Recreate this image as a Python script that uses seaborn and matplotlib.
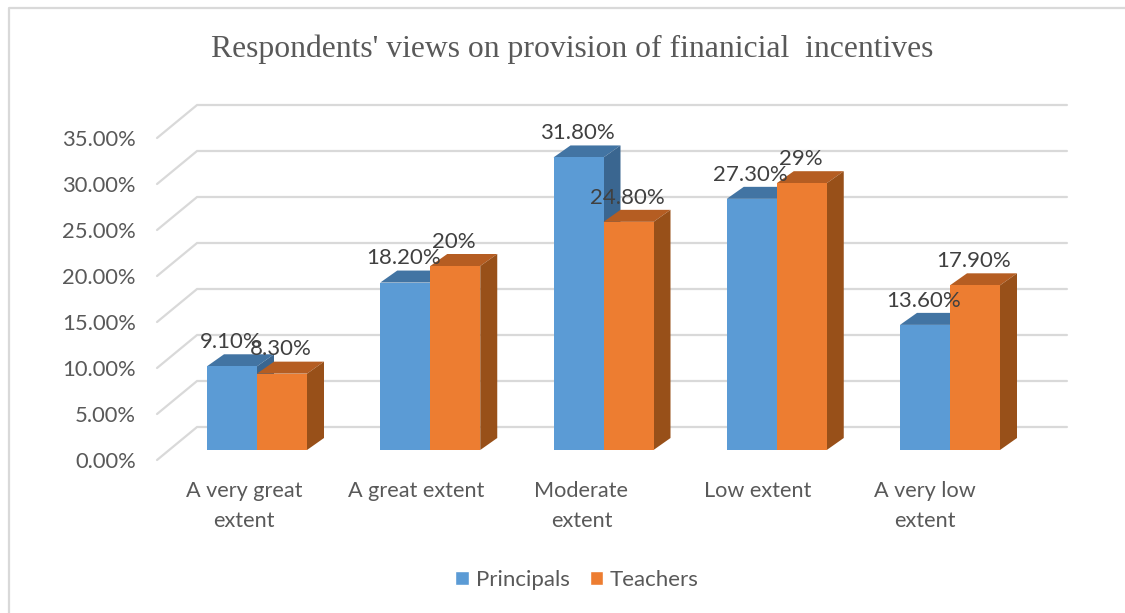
import matplotlib
matplotlib.use("Agg")
import matplotlib.pyplot as plt
from matplotlib.lines import Line2D
from matplotlib.patches import Polygon
from matplotlib.transforms import ScaledTranslation
import pandas as pd
import seaborn as sns

categories = ["A very great\nextent", "A great extent", "Moderate\nextent", "Low extent", "A very low\nextent"]
groups = ["Principals", "Teachers"]
principals = [9.1, 18.2, 31.8, 27.3, 13.6]
teachers = [8.3, 20.0, 24.8, 29.0, 17.9]
principals_labels = ["9.10%", "18.20%", "31.80%", "27.30%", "13.60%"]
teachers_labels = ["8.30%", "20%", "24.80%", "29%", "17.90%"]
y_ticks = [0, 5, 10, 15, 20, 25, 30, 35]
title = "Respondents' views on provision of finanicial  incentives"

W, H = 1125, 613
sns.set_theme(style="white")
plt.rcParams["font.family"] = ["Lato", "DejaVu Sans"]
TXT = "#595959"
GRID = "#D9D9D9"
front = {"Principals": "#5B9BD5", "Teachers": "#ED7D31"}
top_c = {"Principals": "#4274A3", "Teachers": "#B55D22"}
side_c = {"Principals": "#3A6690", "Teachers": "#985019"}
x_label_shift_px = [-13, -14, -22, -19, -25]

fig = plt.figure(figsize=(W / 100, H / 100), dpi=100)
px_x, px_y = 173.25, 9.2
ax = fig.add_axes([(257 - px_x / 2) / W, (H - 450) / H, 5 * px_x / W, 37 * px_y / H])

df = pd.DataFrame({
    "category": categories * 2,
    "group": [groups[0]] * 5 + [groups[1]] * 5,
    "value": principals + teachers,
})
sns.barplot(data=df, x="category", y="value", hue="group", palette=front, saturation=1,
            width=100 / px_x, gap=0, dodge=True, ax=ax, legend=True)
ax.set_xlim(-0.5, 4.5)
ax.set_ylim(0, 37)
ax.set_xlabel("")
ax.set_ylabel("")
sns.despine(ax=ax, left=True, bottom=True)

dx, dy = 17 / px_x, 12 / px_y
all_labels = [principals_labels, teachers_labels]
for k, (cont, labs) in enumerate(zip(ax.containers, all_labels)):
    g = groups[k]
    for rect, lab in zip(cont.patches, labs):
        x0, w, h = rect.get_x(), rect.get_width(), rect.get_height()
        rect.set_zorder(3.1 + k)
        rect.set_edgecolor("none")
        ax.add_patch(Polygon([(x0, h), (x0 + w, h), (x0 + w + dx, h + dy), (x0 + dx, h + dy)],
                             facecolor=top_c[g], edgecolor="none", zorder=3 + k, clip_on=False))
        ax.add_patch(Polygon([(x0 + w, 0), (x0 + w + dx, dy), (x0 + w + dx, h + dy), (x0 + w, h)],
                             facecolor=side_c[g], edgecolor="none", zorder=3 + k, clip_on=False))
        ax.annotate(lab, (x0 + w / 2, h), xytext=(-1, 17.5), textcoords="offset points",
                    ha="center", va="center", fontsize=16, color="#404040", zorder=6)

# back wall and left wall gridlines
for v in y_ticks:
    ax.plot([-0.577, -0.346, 4.675], [v - 10 / px_y, v + 23 / px_y, v + 23 / px_y],
            color=GRID, lw=1.6, zorder=1, clip_on=False, solid_joinstyle="miter")

ax.set_yticks(y_ticks, [f"{v:.2f}%" for v in y_ticks])
ax.tick_params(axis="y", length=0, pad=25, labelsize=15.8, labelcolor=TXT)
ax.tick_params(axis="x", length=0, pad=22.5, labelsize=15.6, labelcolor=TXT)
shift_y = ScaledTranslation(0, -10 / 100, fig.dpi_scale_trans)
for t in ax.get_yticklabels():
    t.set_transform(t.get_transform() + shift_y)
for t, s in zip(ax.get_xticklabels(), x_label_shift_px):
    t.set_transform(t.get_transform() + ScaledTranslation(s / 100, 0, fig.dpi_scale_trans))
    t.set_linespacing(1.62)

leg = ax.legend(loc="center", bbox_to_anchor=(577 / W, (H - 580) / H), bbox_transform=fig.transFigure,
                frameon=False, ncol=2, fontsize=16, handlelength=0.62, handleheight=0.62,
                handletextpad=0.3, columnspacing=0.9, labelcolor=TXT)

fig.text(572 / W, 1 - 49 / H, title, ha="center", va="center", family="Liberation Serif",
         fontsize=22.8, color=TXT)
fig.add_artist(Line2D([9 / W, 9 / W, 1], [0, 1 - 8 / H, 1 - 8 / H], color=GRID, lw=1.6))
fig.savefig("out.png", dpi=100, facecolor="white")
